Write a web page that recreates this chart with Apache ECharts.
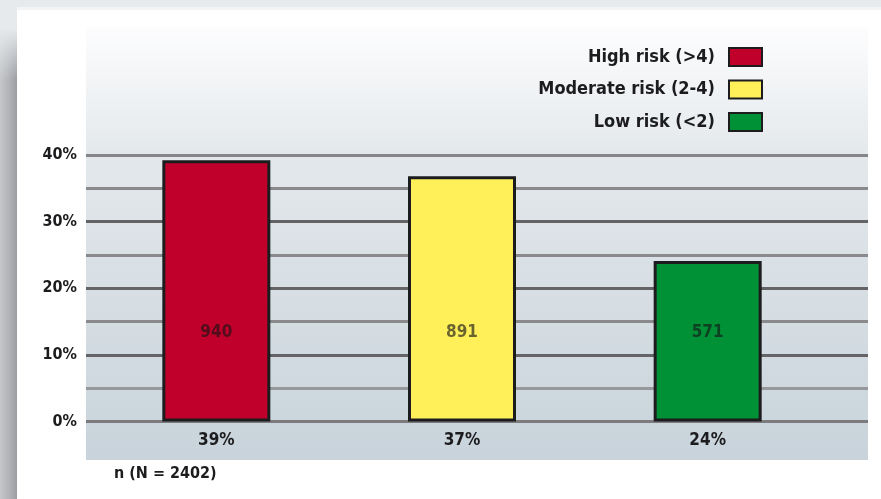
<!DOCTYPE html>
<html>
<head>
<meta charset="utf-8">
<script src="https://cdn.jsdelivr.net/npm/echarts@6/dist/echarts.min.js"></script>
<style>
  html, body { margin: 0; padding: 0; background: #e6eaec; }
  #chart { width: 881px; height: 499px; }
</style>
</head>
<body>
<div id="chart"></div>
<script>
const categories = ['High risk (>4)', 'Moderate risk (2-4)', 'Low risk (<2)'];
const shares = [39.2, 36.8, 24.1];          // bar heights, % of patients
const counts = [940, 891, 571];             // n shown inside bars
const pctLabels = ['39%', '37%', '24%'];    // labels under bars
const colors = ['#c0002a', '#fff05a', '#009036'];
const totalNote = 'n (N = 2402)';

const FONT = "'Liberation Sans Narrow', 'DejaVu Sans Condensed', sans-serif";
const LABEL_Y = 13.4; // height at which counts sit inside bars

const chart = echarts.init(document.getElementById('chart'));

// one series per risk group so the legend gets one entry each
const barSeries = categories.map((name, i) => ({
    name: name,
    type: 'bar',
    xAxisIndex: 1,
    yAxisIndex: 1,
    barWidth: 108,
    barGap: '-100%',
    itemStyle: { color: colors[i], borderColor: '#1c1c1e', borderWidth: 3 },
    data: shares.map((v, j) => (j === i ? v : '-')),
    z: 3
}));

const option = {
    backgroundColor: '#e6eaec',
    animation: false,
    graphic: [
        { type: 'rect', shape: { x: 0, y: 0, width: 17, height: 499 }, silent: true,
          style: { fill: new echarts.graphic.LinearGradient(0, 0, 1, 0, [
              { offset: 0, color: '#c5c7cb' }, { offset: 0.5, color: '#b2b4b8' }, { offset: 1, color: '#9b9da2' }]) }, z: -10 },
        { type: 'rect', shape: { x: 0, y: 0, width: 17, height: 80 }, silent: true,
          style: { fill: new echarts.graphic.LinearGradient(0, 0, 0, 1, [
              { offset: 0, color: '#e6eaec' }, { offset: 0.35, color: '#e6eaec' }, { offset: 1, color: 'rgba(230,234,236,0)' }]) }, z: -9 },
        { type: 'rect', shape: { x: 17, y: 7, width: 864, height: 3 }, silent: true,
          style: { fill: '#f2f4f5' }, z: -10 },
        { type: 'rect', shape: { x: 17, y: 10, width: 864, height: 489 }, silent: true,
          style: { fill: '#ffffff' }, z: -10 },
        { type: 'rect', shape: { x: 86, y: 27, width: 782, height: 433 }, silent: true,
          style: { fill: new echarts.graphic.LinearGradient(0, 0, 0, 1, [
              { offset: 0, color: '#fdfdfe' }, { offset: 0.3, color: '#e3e8eb' }, { offset: 1, color: '#c8d3db' }]) }, z: -8 },
        { type: 'text', left: 114, top: 466, silent: true,
          style: { text: totalNote, fill: '#1c1c1e', font: 'bold 16px ' + FONT } }
    ],
    legend: {
        data: categories,
        orient: 'vertical',
        right: 113,
        top: 42,
        align: 'right',
        itemWidth: 33,
        itemHeight: 18,
        itemGap: 12.5,
        icon: 'rect',
        textStyle: { fontFamily: FONT, fontSize: 18, fontWeight: 'bold', color: '#1c1c1e', padding: [0, 9, 0, 0] }
    },
    grid: [
        { left: 86, right: 13, top: 155, bottom: 77.5 },
        { left: 93.5, right: 50.5, top: 155, bottom: 77.5 }
    ],
    xAxis: [
        { type: 'category', gridIndex: 0, data: categories, show: false },
        { type: 'category', gridIndex: 1, data: categories,
          axisLine: { show: false }, axisTick: { show: false },
          axisLabel: { margin: 11, fontFamily: FONT, fontSize: 17, fontWeight: 'bold', color: '#1c1c1e',
                       formatter: (v, i) => pctLabels[i] } }
    ],
    yAxis: [
        { type: 'value', gridIndex: 0, min: 0, max: 40, interval: 5,
          axisLine: { show: false }, axisTick: { show: false },
          axisLabel: { margin: 9, fontFamily: FONT, fontSize: 16, fontWeight: 'bold', color: '#1c1c1e',
                       formatter: v => (v % 10 === 0 ? v + '%' : '') },
          splitLine: { lineStyle: { width: 3, color: ['#7c7c7e', '#96989c', '#646466', '#8a8a8c', '#646466', '#8a8a8c', '#646466', '#8a8a8c', '#86868a'] } } },
        { type: 'value', gridIndex: 1, min: 0, max: 40, interval: 5, show: false, splitLine: { show: false } }
    ],
    series: [
        ...barSeries,
        {
            name: 'counts',
            type: 'scatter',
            xAxisIndex: 1,
            yAxisIndex: 1,
            symbolSize: 0,
            silent: true,
            z: 5,
            data: counts.map(() => LABEL_Y),
            label: { show: true, position: 'inside', fontFamily: FONT, fontSize: 17, fontWeight: 'bold',
                     color: 'rgba(20,20,22,0.8)', formatter: p => String(counts[p.dataIndex]) }
        }
    ]
};
chart.setOption(option);
</script>
</body>
</html>
